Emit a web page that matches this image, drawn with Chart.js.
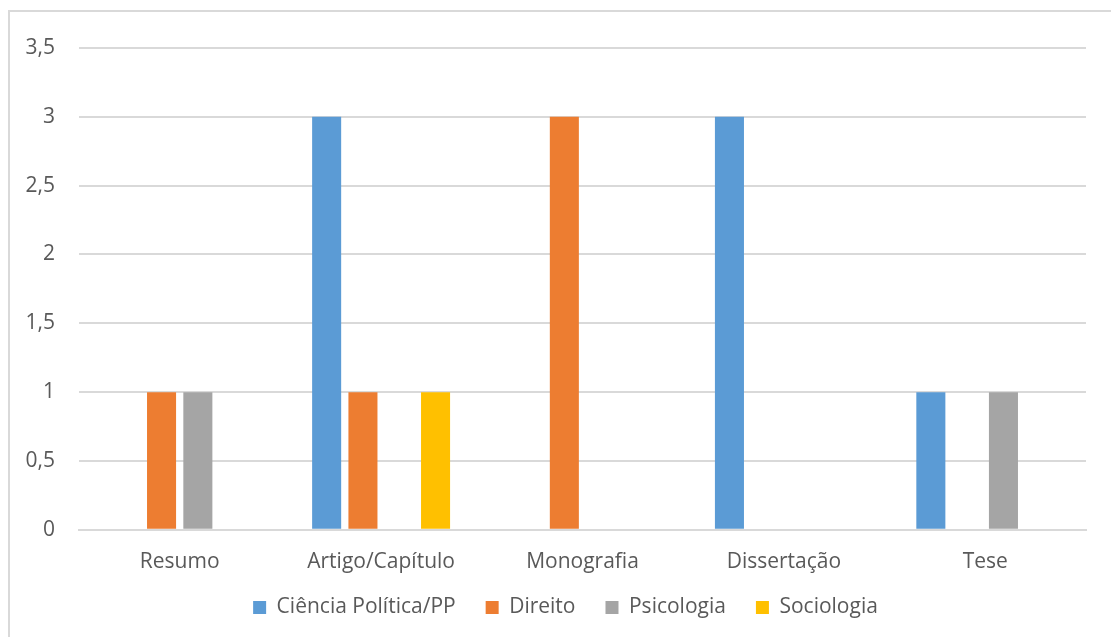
<!DOCTYPE html>
<html>
<head>
<meta charset="utf-8">
<script src="https://cdn.jsdelivr.net/npm/chart.js@4"></script>
<style>
  html, body { margin: 0; padding: 0; background: #fff; }
  #wrap { position: relative; width: 1111px; height: 637px; overflow: hidden; }
  #frame { position: absolute; left: 8px; top: 10px; width: 1200px; height: 700px;
           border-left: 2px solid #d9d9d9; border-top: 2px solid #d9d9d9; }
  canvas { position: absolute; left: 0; top: 0; }
</style>
</head>
<body>
<div id="wrap">
  <div id="frame"></div>
  <canvas id="c" width="1111" height="637"></canvas>
</div>
<script>
// Tipos de trabalho por área
const categories = ['Resumo', 'Artigo/Capítulo', 'Monografia', 'Dissertação', 'Tese'];
const cienciaPolitica = [0, 3, 0, 3, 1];
const direito = [1, 1, 3, 0, 0];
const psicologia = [1, 0, 0, 0, 1];
const sociologia = [0, 1, 0, 0, 0];
const yTicks = [0, 0.5, 1, 1.5, 2, 2.5, 3, 3.5];

const textColor = '#595959';
const gridColor = '#d9d9d9';
const font = { family: "'Open Sans', 'Liberation Sans', sans-serif", size: 21 };

// centre the legend under the plot area and let the category labels
// overlap the space reserved above the legend without being clipped
const layoutTweaks = {
  id: 'layoutTweaks',
  afterLayout(chart) {
    const lg = chart.legend;
    if (lg) {
      const dx = 21;
      lg.left += dx;
      lg.right += dx;
      if (lg.legendHitBoxes) lg.legendHitBoxes.forEach(b => { b.left += dx; });
    }
    const x = chart.scales.x;
    if (x) x.bottom = chart.height;
  }
};

new Chart(document.getElementById('c'), {
  type: 'bar',
  data: {
    labels: categories,
    datasets: [
      { label: 'Ciência Política/PP', data: cienciaPolitica, backgroundColor: '#5b9bd5' },
      { label: 'Direito', data: direito, backgroundColor: '#ed7d31' },
      { label: 'Psicologia', data: psicologia, backgroundColor: '#a5a5a5' },
      { label: 'Sociologia', data: sociologia, backgroundColor: '#ffc000' }
    ]
  },
  plugins: [layoutTweaks],
  options: {
    responsive: false,
    animation: false,
    datasets: { bar: { categoryPercentage: 0.721, barPercentage: 0.8 } },
    layout: { padding: { left: 3, right: 25, top: 48, bottom: 9 } },
    plugins: {
      tooltip: { enabled: false },
      legend: {
        position: 'bottom',
        labels: {
          color: textColor,
          font: font,
          boxWidth: 13,
          boxHeight: 13,
          padding: 30
        }
      }
    },
    scales: {
      x: {
        grid: { display: false, drawTicks: false },
        border: { color: gridColor, width: 2 },
        ticks: { color: textColor, font: font, padding: 20 },
        afterFit: (scale) => { scale.height -= 28; }
      },
      y: {
        min: 0,
        max: 3.5,
        afterBuildTicks: (axis) => { axis.ticks = yTicks.map(v => ({ value: v })); },
        afterFit: (scale) => { scale.width = 76; },
        grid: { color: gridColor, lineWidth: 2, drawTicks: false },
        border: { display: false },
        ticks: {
          color: textColor,
          font: font,
          padding: 24,
          callback: (v) => String(v).replace('.', ',')
        }
      }
    }
  }
});
</script>
</body>
</html>
